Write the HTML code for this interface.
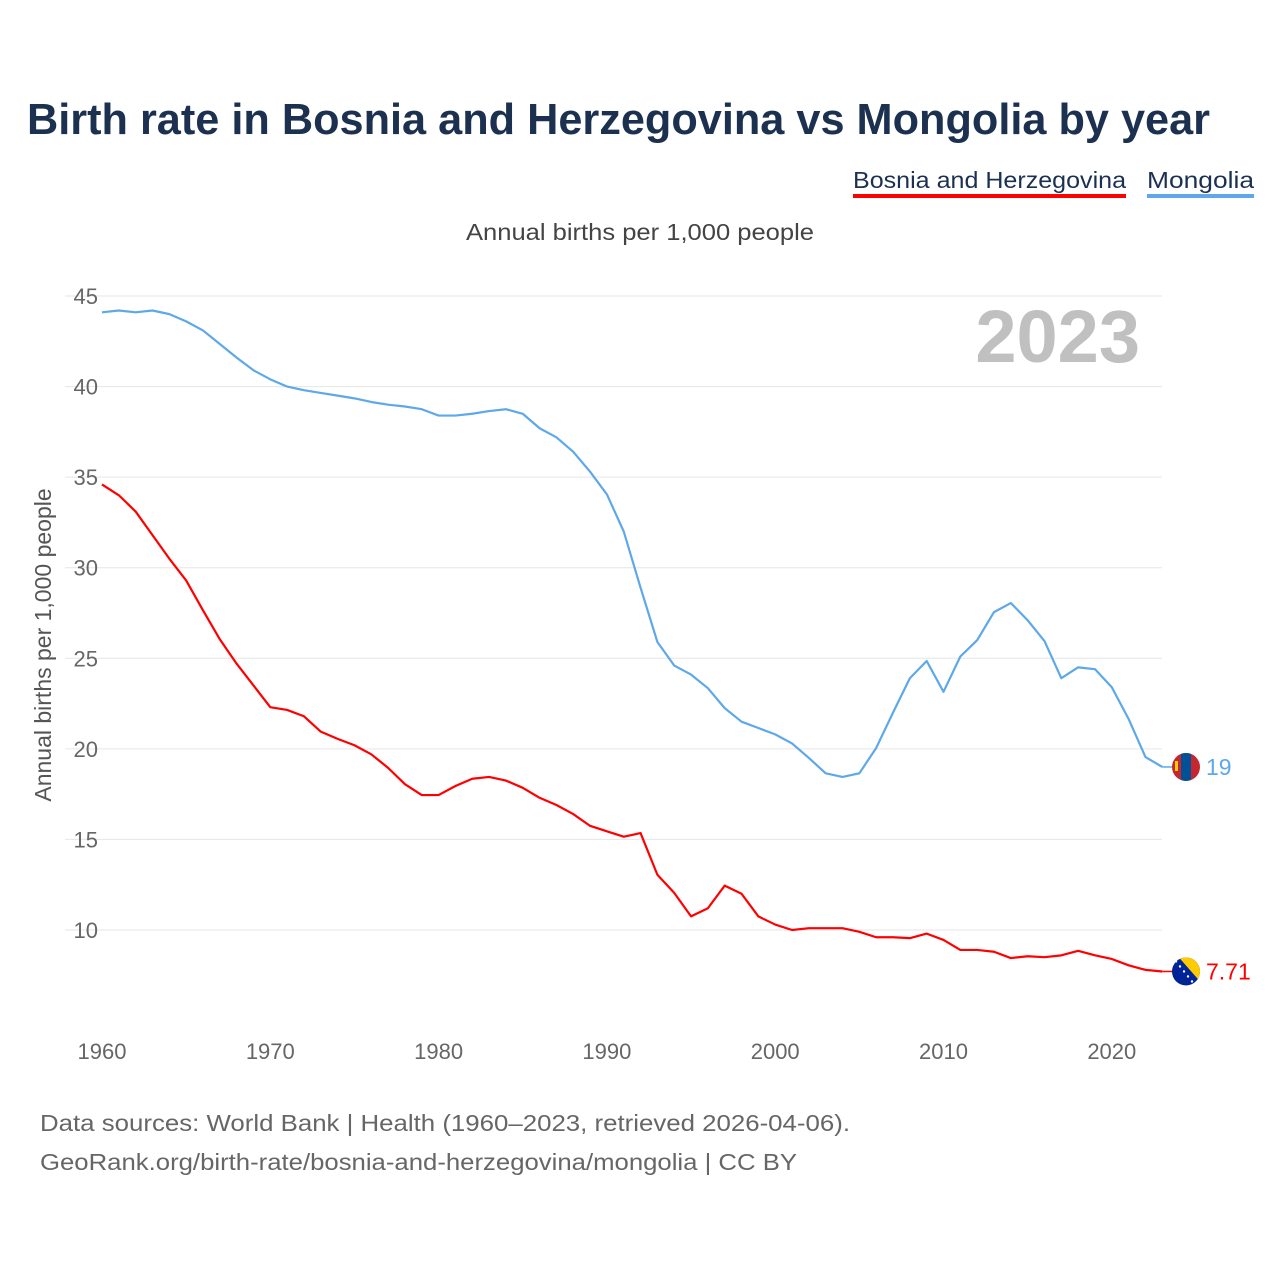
<!DOCTYPE html>
<html><head><meta charset="utf-8">
<style>
body{margin:0;background:#fff;font-family:"Liberation Sans",sans-serif;}
#wrap{position:relative;width:1280px;height:1280px;overflow:hidden;}
</style></head>
<body>
<div id="wrap">
<svg id="chart" width="1280" height="1280">
<text x="27" y="134" font-size="44" font-weight="bold" fill="#1c3150" textLength="1183" lengthAdjust="spacingAndGlyphs">Birth rate in Bosnia and Herzegovina vs Mongolia by year</text>
<g>
<text x="853" y="188" font-size="23" fill="#1c3150" textLength="273" lengthAdjust="spacingAndGlyphs">Bosnia and Herzegovina</text>
<rect x="853" y="194" width="273" height="4" fill="#ff0000"/>
<text x="1147" y="188" font-size="23" fill="#1c3150" textLength="107" lengthAdjust="spacingAndGlyphs">Mongolia</text>
<rect x="1147" y="194" width="107" height="4" fill="#5ea8ea"/>
</g>
<text x="466" y="240" font-size="23" fill="#444" textLength="348" lengthAdjust="spacingAndGlyphs">Annual births per 1,000 people</text>
<text x="1140" y="362" font-size="74" font-weight="bold" fill="#c0c0c0" text-anchor="end">2023</text>
<text transform="translate(51,645) rotate(-90)" font-size="23" fill="#555" text-anchor="middle">Annual births per 1,000 people</text>
<g id="grid"></g><g id="series"></g><g id="labels"></g>
<text x="40" y="1131" font-size="23" fill="#666" textLength="810" lengthAdjust="spacingAndGlyphs">Data sources: World Bank | Health (1960–2023, retrieved 2026-04-06).</text>
<text x="40" y="1170" font-size="23" fill="#666" textLength="757" lengthAdjust="spacingAndGlyphs">GeoRank.org/birth-rate/bosnia-and-herzegovina/mongolia | CC BY</text>
</svg>
</div>
<script>
const years=[];for(let y=1960;y<=2023;y++)years.push(y);
const yTicks=[10,15,20,25,30,35,40,45];
const xTicks=[1960,1970,1980,1990,2000,2010,2020];
const mongolia=[44.1,44.2,44.1,44.2,44.0,43.6,43.1,42.35,41.6,40.9,40.4,40.0,39.8,39.65,39.5,39.35,39.15,39.0,38.9,38.75,38.4,38.4,38.5,38.65,38.75,38.5,37.7,37.2,36.4,35.3,34.05,32.0,28.9,25.9,24.6,24.1,23.35,22.25,21.5,21.15,20.8,20.3,19.5,18.65,18.45,18.65,20.05,22.0,23.9,24.85,23.15,25.1,26.0,27.55,28.05,27.1,25.95,23.9,24.5,24.4,23.4,21.65,19.55,19.0];
const bosnia=[34.6,34.0,33.1,31.8,30.5,29.3,27.65,26.05,24.7,23.5,22.3,22.15,21.8,20.95,20.55,20.2,19.7,18.95,18.05,17.45,17.45,17.95,18.35,18.45,18.25,17.85,17.3,16.9,16.4,15.75,15.45,15.15,15.35,13.05,12.05,10.75,11.2,12.45,12.0,10.75,10.3,10.0,10.1,10.1,10.1,9.9,9.6,9.6,9.55,9.8,9.45,8.9,8.9,8.8,8.45,8.55,8.5,8.6,8.85,8.6,8.4,8.05,7.8,7.71];
const endLabels=["19","7.71"];
const NS="http://www.w3.org/2000/svg";
const X=y=>102+(y-1960)*16.83;
const Y=v=>930-(v-10)*18.114;
function mk(tag,attrs,parent){const e=document.createElementNS(NS,tag);for(const k in attrs)e.setAttribute(k,attrs[k]);parent.appendChild(e);return e;}
const grid=document.getElementById('grid'),series=document.getElementById('series'),labels=document.getElementById('labels');
yTicks.forEach(t=>{
 const l=mk('line',{x1:65,x2:1162,y1:Y(t),y2:Y(t),stroke:'#e6e6e6','stroke-width':1},grid);
 
 
 const tx=mk('text',{x:98,y:Y(t)+8,'font-size':22,fill:'#666','text-anchor':'end'},grid);
 tx.textContent=t;
 
 
});
xTicks.forEach(t=>{
 const tx=mk('text',{x:X(t),y:1059,'font-size':22,fill:'#666','text-anchor':'middle'},grid);
 tx.textContent=t;
 
 
});
function line(data,color,name){
 const p=mk('polyline',{points:data.map((v,i)=>X(years[i])+','+Y(v)).join(' '),fill:'none',stroke:color,'stroke-width':2.2,'stroke-linejoin':'round'},series);
 
 
}
line(mongolia,'#5ea8ea','mongolia-line');
line(bosnia,'#ff0000','bosnia-line');
function endMarker(data,color,lab,name,flag){
 const v=data[data.length-1],x0=X(2023),y0=Y(v);
 const l=mk('line',{x1:x0,x2:1174,y1:y0,y2:y0,stroke:color,'stroke-width':1.5},labels);
 
 
 const g=mk('g',{},labels);
 
 
 const cid='c'+name;
 const cp=mk('clipPath',{id:cid},g);mk('circle',{cx:1186,cy:y0,r:14},cp);
 const f=mk('g',{'clip-path':'url(#'+cid+')'},g);
 if(flag==='mn'){
  mk('rect',{x:1172,y:y0-14,width:28,height:28,fill:'#c4272f'},f);
  mk('rect',{x:1181,y:y0-14,width:10,height:28,fill:'#015197'},f);
  mk('rect',{x:1175,y:y0-6,width:3,height:10,fill:'#f9cf02'},f);
 }else{
  mk('rect',{x:1172,y:y0-14,width:28,height:28,fill:'#002395'},f);
  mk('polygon',{points:`1179,${y0-14} 1200,${y0-14} 1200,${y0+10}`,fill:'#fecb00'},f);
  for(let i=0;i<5;i++)mk('circle',{cx:1176+i*4,cy:y0-10+i*5,r:1.2,fill:'#fff'},f);
 }
 const t=mk('text',{x:1206,y:y0+8,'font-size':23,fill:color},labels);
 t.textContent=lab;
 
 
}
endMarker(mongolia,'#5ea8ea',endLabels[0],'mongolia','mn');
endMarker(bosnia,'#ff0000',endLabels[1],'bosnia','ba');
</script>
</body></html>
